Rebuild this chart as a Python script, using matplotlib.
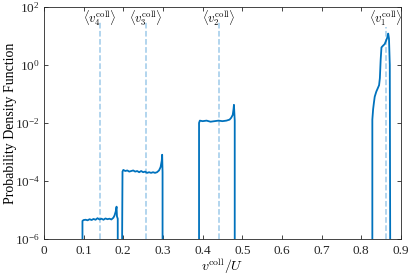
import numpy as np
import matplotlib
matplotlib.use('Agg')
from matplotlib import pyplot as plt

plt.rcParams['font.family'] = 'Liberation Serif'
plt.rcParams['mathtext.fontset'] = 'stix'

# data: (v_coll/U, pdf) for each collision group
x4 = [0.097, 0.097, 0.100, 0.105, 0.110, 0.115, 0.120, 0.125, 0.130, 0.135, 0.140,
      0.145, 0.150, 0.155, 0.160, 0.165, 0.170, 0.175, 0.178, 0.181, 0.183, 0.184, 0.186, 0.186]
y4 = [1e-6, 4.2e-6, 4.5e-6, 4.6e-6, 4.4e-6, 4.8e-6, 4.5e-6, 4.9e-6, 4.6e-6, 5.2e-6, 4.7e-6,
      5.0e-6, 4.6e-6, 5.1e-6, 4.8e-6, 5.0e-6, 4.7e-6, 5.4e-6, 6.5e-6, 9e-6, 1.3e-5, 6e-6, 5e-6, 1e-6]

x3 = [0.197, 0.198, 0.200, 0.205, 0.210, 0.215, 0.220, 0.225, 0.230, 0.235, 0.240, 0.245,
      0.250, 0.255, 0.260, 0.265, 0.270, 0.275, 0.280, 0.285, 0.290, 0.294, 0.297, 0.298, 0.299, 0.299]
y3 = [1e-6, 2.1e-4, 2.4e-4, 2.2e-4, 2.3e-4, 2.1e-4, 2.2e-4, 2.3e-4, 2.1e-4, 2.2e-4, 2.0e-4, 2.2e-4,
      2.0e-4, 2.1e-4, 1.9e-4, 2.0e-4, 1.9e-4, 2.0e-4, 1.9e-4, 2.0e-4, 2.3e-4, 3.0e-4, 5e-4, 8e-4, 2e-4, 1e-6]

x2 = [0.391, 0.391, 0.393, 0.400, 0.410, 0.420, 0.430, 0.440, 0.450, 0.460, 0.468,
      0.472, 0.476, 0.478, 0.479, 0.481, 0.481]
y2 = [1e-6, 1.0e-2, 1.2e-2, 1.15e-2, 1.2e-2, 1.1e-2, 1.15e-2, 1.2e-2, 1.15e-2, 1.2e-2, 1.3e-2,
      1.5e-2, 1.9e-2, 3.0e-2, 4.2e-2, 1.2e-2, 1e-6]

x1 = [0.828, 0.828, 0.830, 0.832, 0.834, 0.838, 0.842, 0.845, 0.847, 0.849, 0.851,
      0.855, 0.859, 0.863, 0.866, 0.868, 0.870, 0.872, 0.873]
y1 = [1e-6, 1.3e-2, 3e-2, 5e-2, 8e-2, 0.12, 0.16, 0.2, 0.35, 1.5, 4.0,
      4.6, 5.2, 7.0, 9.0, 12.0, 8.0, 1.0, 1e-6]

v_mean = [0.862, 0.441, 0.257, 0.141]
v_names = [r'$\langle v_1^{\rm coll}\rangle$', r'$\langle v_2^{\rm coll}\rangle$',
           r'$\langle v_3^{\rm coll}\rangle$', r'$\langle v_4^{\rm coll}\rangle$']

fig = plt.figure(figsize=(4.15, 2.75), dpi=100)
ax = fig.add_axes([0.106, 0.131, 0.860, 0.844])

for xs, ys in [(x4, y4), (x3, y3), (x2, y2), (x1, y1)]:
	ax.plot(xs, ys, color='#0072BD', lw=1.3)

for v, name in zip(v_mean, v_names):
	ax.plot([v, v], [1e-6, 2e1 if v > 0.8 else 3e1], ls='--', color='#9ecae9', lw=1.1, zorder=1)
	ax.text(v, 4.2e1, name, ha='center', va='center', fontsize=9, math_fontfamily='cm')

ax.set_yscale('log')
ax.set_xlim(0, 0.9)
ax.set_ylim(1e-6, 1e2)
ax.set_xticks(np.arange(0, 0.91, 0.1))
ax.set_xticklabels(['0', '0.1', '0.2', '0.3', '0.4', '0.5', '0.6', '0.7', '0.8', '0.9'])
ax.set_yticks([1e-6, 1e-4, 1e-2, 1e0, 1e2])
ax.minorticks_off()
ax.tick_params(direction='in', top=True, right=True, length=3, width=0.6,
               colors='#262626', labelsize=9.5, pad=3)
ax.tick_params(axis='x', pad=4)
for s in ax.spines.values():
	s.set_color('#262626')
	s.set_linewidth(0.6)

ax.set_xlabel(r'$v^{\rm coll}/U$', fontsize=10, math_fontfamily='cm')
ax.xaxis.set_label_coords(0.5, -0.118)
ax.xaxis.label.set_va('center')
ax.set_ylabel('Probability Density Function', fontsize=10)
ax.yaxis.set_label_coords(-0.095, 0.5)
ax.yaxis.label.set_va('center')

fig.savefig('out.png', dpi=100)
